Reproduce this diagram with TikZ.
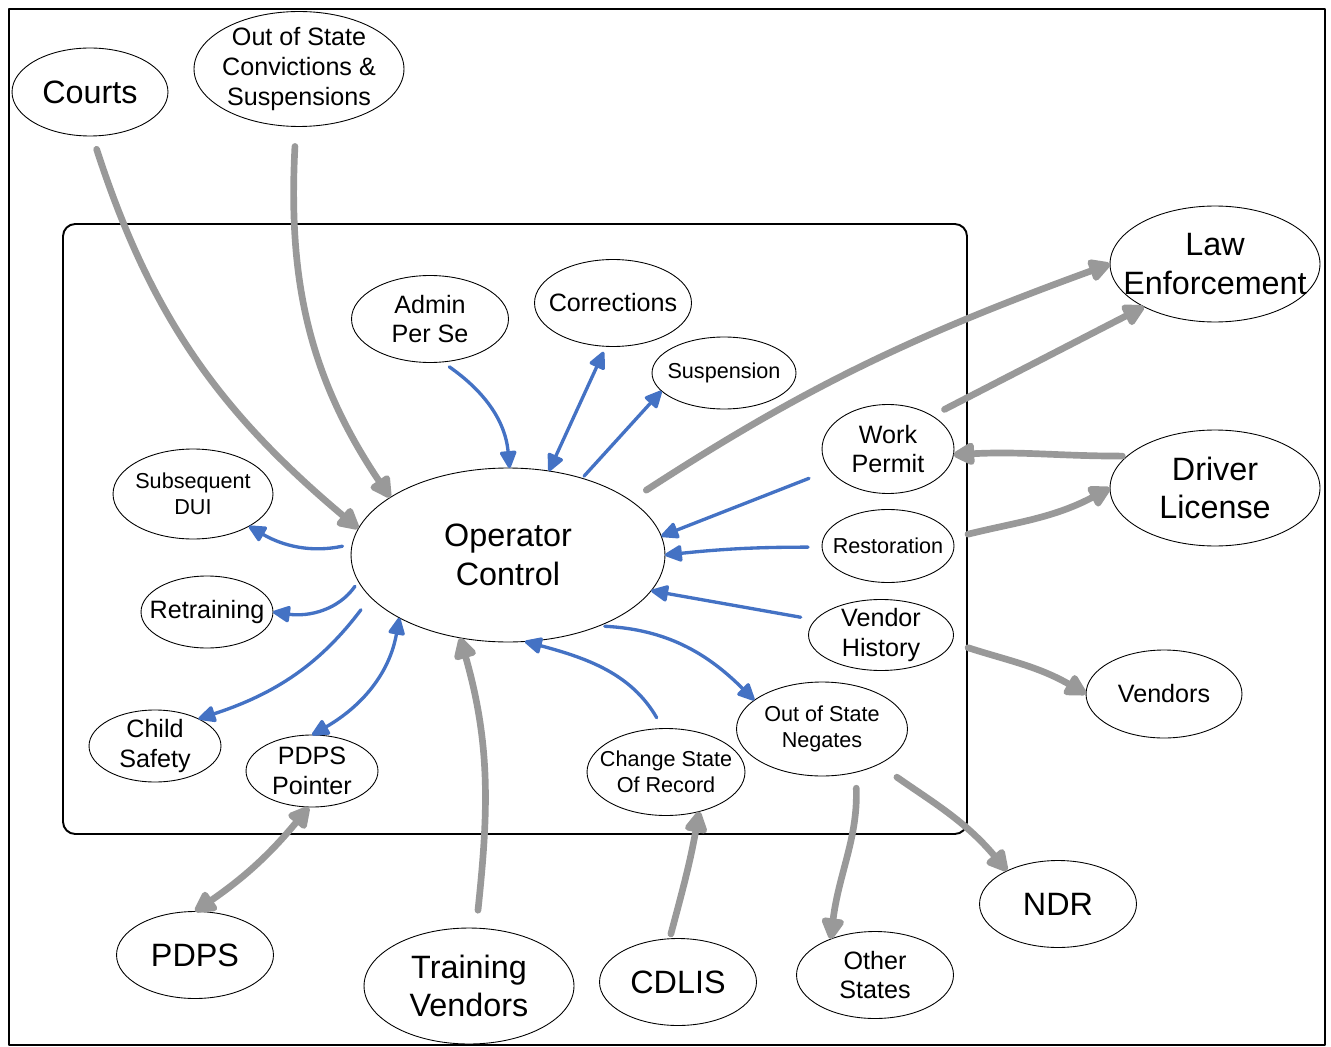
\documentclass[tikz,border=0pt]{standalone}
\usepackage{fontspec}
\setmainfont{Liberation Sans}
\usepackage{xcolor}
\usetikzlibrary{shapes.geometric, arrows.meta}
\definecolor{flowgray}{RGB}{153,153,153}
\definecolor{flowblue}{RGB}{68,114,196}

\begin{document}
\begin{tikzpicture}[x=0.02cm, y=-0.02cm, line join=round,
    bub/.style={draw, ellipse, line width=0.5pt, inner xsep=-30pt, inner ysep=-8pt, outer sep=0pt, align=center},
    bubL/.style={bub, minimum width=4.2cm, minimum height=2.32cm},
    bubM/.style={bub, minimum width=3.14cm, minimum height=1.74cm},
    bubS/.style={bub, minimum width=2.64cm, minimum height=1.44cm},
    bigtxt/.style={font=\fontsize{18.4}{22}\selectfont},
    midtxt/.style={font=\fontsize{14.3}{17}\selectfont},
    smltxt/.style={font=\fontsize{12.3}{14.7}\selectfont},
    gflow/.style={draw=flowgray, line width=3.8pt, line cap=round, >={Triangle[length=14pt,width=14pt,round]}, ->},
    bflow/.style={draw=flowblue, line width=1.9pt, line cap=round, >={Triangle[length=11pt,width=10pt,round]}, ->}]
       \useasboundingbox (0,0) rectangle (1331,1047);
       % Frames
       \draw[line width=1.5pt] (9,9) rectangle (1325,1045);
       \draw[line width=1.1pt, rounded corners=7pt] (63,224) rectangle (967,834);

       % Nodes
       \node[bubM, minimum width=3.12cm, minimum height=1.76cm, bigtxt] (courts) at (90,92) {Courts};
       \node[bubL, minimum height=2.3cm, midtxt] (conv) at (299,69) {Out of State\\Convictions \&\\Suspensions};
       \node[bubM, midtxt] (admin) at (430,319) {Admin\\Per Se};
       \node[bubM, midtxt] (corr) at (613,303) {Corrections};
       \node[bubS, minimum width=2.88cm, smltxt] (susp) at (724,373) {Suspension};
       \node[bub, minimum width=6.28cm, minimum height=3.48cm, bigtxt] (op) at (508,555) {Operator\\Control};
       \node[bubM, minimum width=3.2cm, minimum height=1.8cm, smltxt] (sdui) at (193,494) {Subsequent\\DUI};
       \node[bubS, midtxt] (retr) at (207,612) {Retraining};
       \node[bubS, midtxt] (child) at (155,746) {Child\\Safety};
       \node[bubS, midtxt] (pptr) at (312,771) {PDPS\\Pointer};
       \node[bubM, minimum width=3.16cm, smltxt] (csr) at (666,772) {Change State\\Of Record};
       \node[bubM, minimum width=3.42cm, minimum height=1.88cm, smltxt] (oosn) at (822,729) {Out of State\\Negates};
       \node[bubS, minimum width=2.9cm, minimum height=1.42cm, midtxt] (vh) at (881,635) {Vendor\\History};
       \node[bubS, minimum height=1.46cm, smltxt] (rest) at (888,546) {Restoration};
       \node[bubS, minimum height=1.78cm, midtxt] (wp) at (888,449) {Work\\Permit};
       \node[bubL, bigtxt] (law) at (1215,264) {Law\\Enforcement};
       \node[bubL, bigtxt] (dl) at (1215,488) {Driver\\License};
       \node[bubM, minimum width=3.12cm, minimum height=1.76cm, midtxt] (vend) at (1164,694) {Vendors};
       \node[bubM, bigtxt] (ndr) at (1058,904) {NDR};
       \node[bubM, midtxt] (other) at (875,975) {Other\\States};
       \node[bubM, bigtxt] (cdlis) at (678,982) {CDLIS};
       \node[bubL, bigtxt] (tv) at (469,986) {Training\\Vendors};
       \node[bubM, bigtxt] (pdps) at (195,955) {PDPS};

       % Outside flows
       \draw[gflow, shorten <=0.28cm] (courts.-87) to[out=-72, in=140] (op.170);
       \draw[gflow, shorten <=0.4cm] (conv.-93) to[out=-93, in=124] (op.154);
       \draw[gflow, shorten <=0.38cm] (op.24) to[out=33, in=200] (law.180);
       \draw[gflow, shorten <=0.28cm] (wp.37) -- (law.211);
       \draw[gflow, shorten <=0.1cm] (dl.160) to[out=180, in=3] (wp.-5);
       \draw[gflow, shorten <=0.32cm] (rest.7) to[out=14, in=208] (dl.180);
       \draw[gflow, shorten <=0.34cm] (vh.-6) to[out=-18, in=150] (vend.180);
       \draw[gflow, shorten <=0.45cm] (oosn.-32) to[out=-35, in=130] (ndr.147);
       \draw[gflow, shorten <=0.32cm] (oosn.-52) to[out=-88, in=83] (other.141);
       \draw[gflow, shorten <=0.1cm] (cdlis.101) to[out=75, in=-100] (csr.-50);
       \draw[gflow, shorten <=0.36cm] (tv.83) to[out=84, in=-74] (op.-120);
       \draw[gflow, <->] (pdps.north) to[bend right=8] (pptr.-95);

       % Inside flows
       \draw[bflow, shorten <=0.17cm] (admin.-74) to[out=-35, in=95] (op.89);
       \draw[bflow, <->, shorten >=0.12cm] (op.64) -- (corr.-99);
       \draw[bflow, shorten <=0.06cm] (op.46) -- (susp.196);
       \draw[bflow, shorten <=0.45cm] (wp.200) -- (op.7);
       \draw[bflow, shorten <=0.28cm] (rest.181) to[out=180, in=6] (op.0);
       \draw[bflow, shorten <=0.3cm] (vh.167) -- (op.-14);
       \draw[bflow, shorten <=0.12cm] (op.-38) to[out=-3, in=135] (oosn.157);
       \draw[bflow, shorten <=0.25cm] (csr.94) to[out=120, in=-15] (op.-79);
       \draw[bflow, <->] (pptr.north) to[out=30, in=-100] (op.-150);
       \draw[bflow, shorten <=0.32cm] (op.-163) to[out=-127, in=18] (child.32);
       \draw[bflow, shorten <=0.12cm] (op.-170) to[out=-125, in=-8] (retr.east);
       \draw[bflow, shorten <=0.2cm] (op.176) to[out=-168, in=-30] (sdui.-30);
\end{tikzpicture}
\end{document}
